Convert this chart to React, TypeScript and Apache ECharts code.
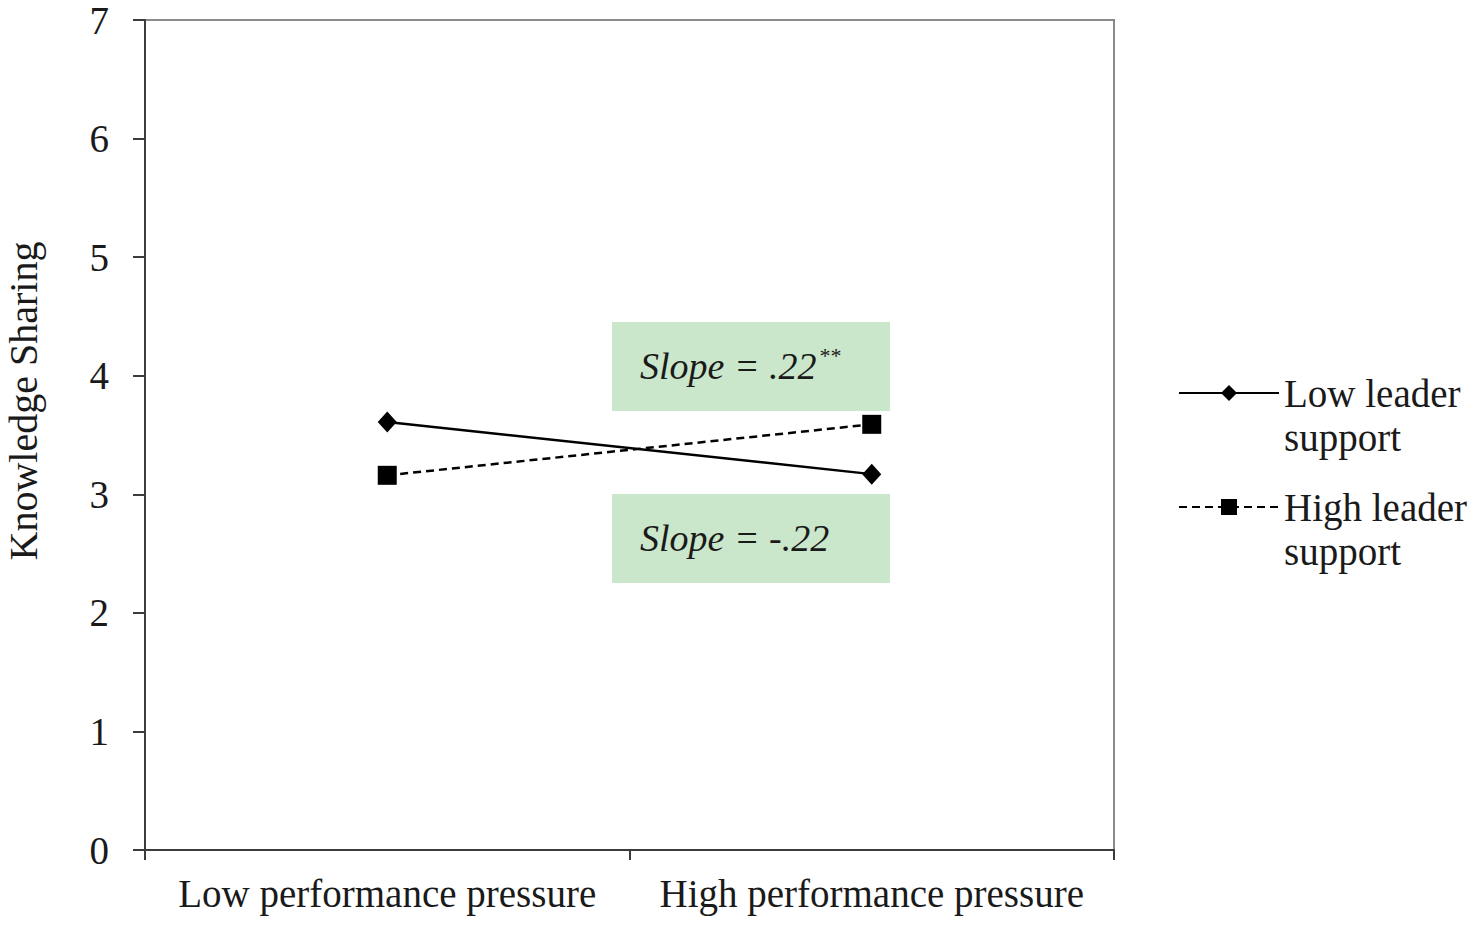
import React, { useEffect, useRef } from "react";
import * as echarts from "echarts";

const categories = ["Low performance pressure", "High performance pressure"];
const lowLeaderSupport = [3.61, 3.17];
const highLeaderSupport = [3.16, 3.59];
const seriesNames = ["Low leader support", "High leader support"];
const legendLabels: Record<string, string> = {
  "Low leader support": "\nLow leader\nsupport",
  "High leader support": "\nHigh leader\nsupport",
};
const slopeTexts = [
  { main: "Slope = .22", sup: "**" },
  { main: "Slope = -.22", sup: "" },
];

const FONT = '"Liberation Serif", "Times New Roman", serif';

export default function App() {
  const ref = useRef<HTMLDivElement>(null);
  useEffect(() => {
    if (!ref.current) return;
    const chart = echarts.init(ref.current, undefined, { renderer: "svg" });
    const axisColor = "#3c3c3c";
    const option: any = {
      animation: false,
      backgroundColor: "#ffffff",
      textStyle: { fontFamily: FONT },
      grid: {
        left: 145,
        top: 20,
        right: 363,
        bottom: 75,
        containLabel: false,
        outerBoundsMode: "none",
        show: true,
        borderColor: "#8a8a8a",
        borderWidth: 2,
        backgroundColor: "transparent",
      },
      xAxis: {
        type: "category",
        data: categories,
        boundaryGap: true,
        axisLine: { lineStyle: { color: axisColor, width: 2 } },
        axisTick: { show: true, interval: 0, length: 10, lineStyle: { color: axisColor, width: 2 } },
        axisLabel: { interval: 0, color: "#1a1a1a", fontSize: 39, fontFamily: FONT, margin: 24 },
        splitLine: { show: false },
      },
      yAxis: {
        type: "value",
        min: 0,
        max: 7,
        interval: 1,
        name: "Knowledge Sharing",
        nameLocation: "middle",
        nameGap: 102,
        nameRotate: 90,
        nameTextStyle: { color: "#1a1a1a", fontSize: 40, fontFamily: FONT, padding: [0, 0, 0, 68] },
        axisLine: { show: true, lineStyle: { color: axisColor, width: 2 } },
        axisTick: { show: true, length: 12, lineStyle: { color: axisColor, width: 2 } },
        axisLabel: { color: "#1a1a1a", fontSize: 39, fontFamily: FONT, margin: 36 },
        splitLine: { show: false },
      },
      legend: {
        orient: "vertical",
        left: 1178,
        top: 327,
        padding: 0,
        itemWidth: 100,
        itemHeight: 20,
        itemGap: -18,
        data: seriesNames,
        formatter: (name: string) => legendLabels[name] ?? name,
        textStyle: {
          color: "#1a1a1a",
          fontSize: 39,
          fontFamily: FONT,
          lineHeight: 44,
        },
      },
      series: [
        {
          name: seriesNames[0],
          type: "line",
          data: lowLeaderSupport,
          symbol: "diamond",
          symbolSize: [19, 21],
          lineStyle: { color: "#000", width: 2.5, type: "solid" },
          itemStyle: { color: "#000" },
        },
        {
          name: seriesNames[1],
          type: "line",
          data: highLeaderSupport,
          symbol: "rect",
          symbolSize: 19,
          lineStyle: { color: "#000", width: 2.5, type: [8, 5] },
          itemStyle: { color: "#000" },
        },
      ],
      graphic: [
        {
          type: "rect",
          shape: { x: 612, y: 322, width: 278, height: 89 },
          style: { fill: "#cbe7cb" },
          z: 0,
        },
        {
          type: "rect",
          shape: { x: 612, y: 494, width: 278, height: 89 },
          style: { fill: "#cbe7cb" },
          z: 0,
        },
        {
          type: "text",
          x: 640,
          y: 366,
          style: {
            text: `{m|${slopeTexts[0].main}}{s|${slopeTexts[0].sup}}`,
            verticalAlign: "middle",
            rich: {
              m: { fontSize: 38, fontStyle: "italic", fontFamily: FONT, fill: "#1a1a1a" },
              s: { fontSize: 22, fontStyle: "italic", fontFamily: FONT, fill: "#1a1a1a", padding: [0, 0, 22, 2] },
            },
          },
          z: 5,
        },
        {
          type: "text",
          x: 640,
          y: 538,
          style: {
            text: `{m|${slopeTexts[1].main}}`,
            verticalAlign: "middle",
            rich: {
              m: { fontSize: 38, fontStyle: "italic", fontFamily: FONT, fill: "#1a1a1a" },
            },
          },
          z: 5,
        },
      ],
    };
    chart.setOption(option);
    return () => chart.dispose();
  }, []);
  return (
    <div
      ref={ref}
      style={{ position: "fixed", left: 0, top: 0, width: 1477, height: 925, background: "#fff" }}
    />
  );
}
